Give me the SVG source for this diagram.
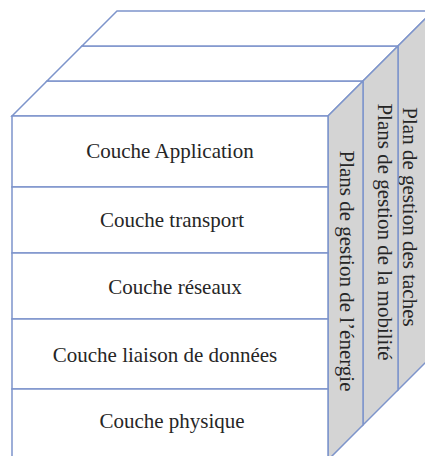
<svg xmlns="http://www.w3.org/2000/svg" width="425" height="456" viewBox="0 0 425 456">
  <style>
    .edge { stroke: #7d94cb; stroke-width: 1.5; stroke-linejoin: miter; }
    .face { fill: #ffffff; }
    .side { fill: #d4d4d4; }
    .lbl { font-family: "Liberation Serif", "Times New Roman", serif; font-size: 21px; fill: #262626; text-anchor: middle; }
  </style>
  <rect width="425" height="456" fill="#ffffff"/>

  <!-- top face: three stacked strips receding to the back -->
  <g id="top-face">
    <polygon class="face edge" points="12,116 328,116 363,81 47,81"/>
    <polygon class="face edge" points="47,81 363,81 398,46 82,46"/>
    <polygon class="face edge" points="82,46 398,46 433,11 117,11"/>
  </g>

  <!-- side planes (right face) -->
  <g id="plan-taches">
    <polygon class="side edge" points="398,46 433,11 433,355 398,390"/>
    <text class="lbl" transform="translate(403,217) rotate(90)">Plan de gestion des taches</text>
  </g>
  <g id="plan-mobilite">
    <polygon class="side edge" points="363,81 398,46 398,390 363,425"/>
    <text class="lbl" transform="translate(378,232) rotate(90)">Plans de gestion de la mobilité</text>
  </g>
  <g id="plan-energie">
    <polygon class="side edge" points="328,116 363,81 363,425 328,460"/>
    <text class="lbl" transform="translate(340,271) rotate(90)">Plans de gestion de l’énergie</text>
  </g>

  <!-- front face: protocol layers -->
  <g id="couche-application">
    <rect class="face edge" x="12" y="116" width="316" height="71"/>
    <text class="lbl" x="170" y="158">Couche Application</text>
  </g>
  <g id="couche-transport">
    <rect class="face edge" x="12" y="187" width="316" height="66"/>
    <text class="lbl" x="172" y="227">Couche transport</text>
  </g>
  <g id="couche-reseaux">
    <rect class="face edge" x="12" y="253" width="316" height="66"/>
    <text class="lbl" x="175" y="294">Couche réseaux</text>
  </g>
  <g id="couche-liaison">
    <rect class="face edge" x="12" y="319" width="316" height="70"/>
    <text class="lbl" x="165" y="362">Couche liaison de données</text>
  </g>
  <g id="couche-physique">
    <rect class="face edge" x="12" y="389" width="316" height="71"/>
    <text class="lbl" x="172" y="428">Couche physique</text>
  </g>

  <!-- no connectors in this figure -->
  <g id="connectors"/>
</svg>
